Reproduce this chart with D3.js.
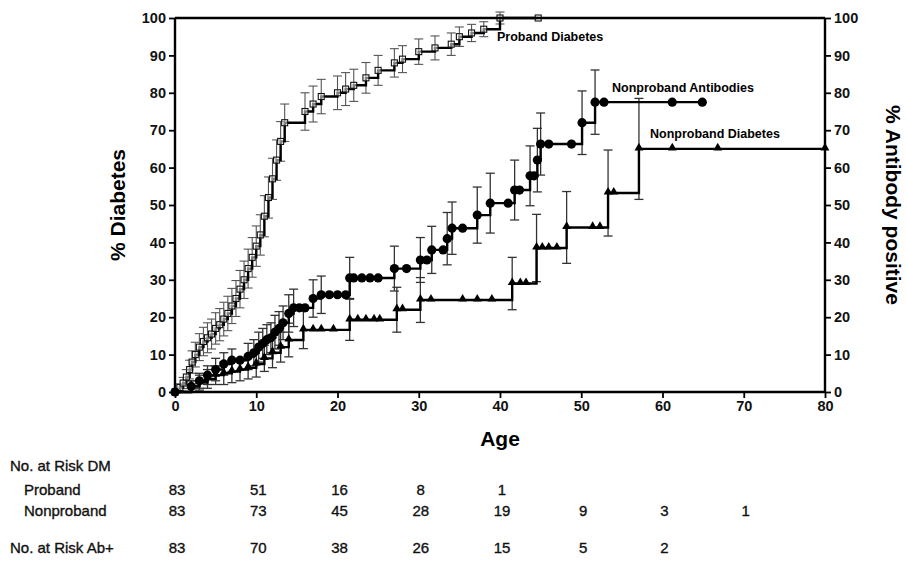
<!DOCTYPE html>
<html>
<head>
<meta charset="utf-8">
<script src="https://cdn.jsdelivr.net/npm/d3@7"></script>
<style>
  body { margin: 0; background: #fff; }
  svg { font-family: "Liberation Sans", Arial, sans-serif; }
  .tick text { font-weight: bold; font-size: 14.5px; }
</style>
</head>
<body>
<svg id="chart" width="907" height="564"></svg>
<script>
// Cumulative risk curves

// Proband diabetes (open squares)
var probandAge = [0,0.6,1.0,1.4,1.8,2.1,2.5,3,3.5,4,4.5,5,5.5,6,6.5,7,7.5,8,8.5,9,9.5,10,10.5,11,11.5,12,12.5,13,13.5,16,17,18,20,21,22,23.5,25,27,28,30,32,34,35,36.5,38,40,44.7];
var probandPct = [0,1.2,2.4,4,6,8,10,12,13.5,14.5,15.5,17,18,19.5,21,23,25,27.5,30,33,36,39,42,47,52,57,62,67,72,75,77,79,80,81,82,84,86,88,89,91,92,93,95,96,97,100,100];
var probandErr = [0,1,1.5,2,2.5,3,3.3,3.6,3.8,4,4,4.2,4.3,4.5,4.6,4.7,4.8,5,5,5.2,5.3,5.4,5.4,5.5,5.5,5.5,5.4,5.3,5,5,4.8,4.6,4.5,4.4,4.3,4.1,4,3.8,3.6,3.4,3.2,3,2.6,2.3,2,1.6,0];

// Nonproband antibodies (filled circles)
var abAge = [0,2,3,4,5,6,7,8,9,9.7,10.3,10.8,11.3,11.8,12.3,12.8,13.3,14,14.6,15.3,16,17,18,19,20,21,21.5,22,23,24,25,27,28.5,30.2,31,31.6,33,33.5,34.1,35.4,37.2,38.8,41,41.8,42.4,43.7,44.2,44.6,45,46,48.8,50.1,51.7,52.8,61.2,64.9];
var abPct = [0,1.5,3,4.5,6,7.5,8.5,8.5,9.5,10.5,12,13,14,14.5,16,17,18.5,21,22.5,22.5,22.5,25,26,26,26,26,30.5,30.5,30.5,30.5,30.5,33,33,35.3,35.3,38,38,41,43.8,43.8,47.3,50.5,50.5,54,54,57.8,57.8,62,66.3,66.3,66.3,72,77.5,77.5,77.5,77.5];
var abErr = [0,1.5,2,2.5,3,3,3,0,3.5,3.5,4,4,4,4,4.5,4.5,4.5,5,5,0,0,5,5,0,0,0,5.5,0,0,0,0,6,0,6,0,6.3,0,7,7,0,7.5,8,0,8,0,8,0,8.5,8.3,0,0,8.5,8.6,0,0,0];

// Nonproband diabetes (filled triangles)
var dmAge = [0,2,3,4,5,6,7,8,9,10,11,12,13,14,15.8,17,18,19.5,21.5,22.5,23.5,24.5,25.2,27.3,28,30.2,31.5,35.4,37.2,39,41.5,42.5,43.2,44.5,45.2,46,47,48.2,51.4,52.3,53.3,54,57.1,61.2,66.8,80];
var dmPct = [0,1.5,2.5,3.5,4.5,5,5.5,6,6.5,7.5,9,10.5,12,13.9,16.6,16.6,16.6,16.6,19.3,19.3,19.3,19.3,19.3,22,22,24.6,24.6,24.6,24.6,24.6,29,29,29,38.5,38.5,38.5,38.5,44,44,44,53.2,53.2,65,65,65,65];
var dmErr = [0,1.5,2,2.5,2.5,3,3,3,3,3.5,3.5,4,4,4.5,5,0,0,0,5.5,0,0,0,0,6,0,6,0,0,0,0,7,0,0,9,0,0,0,9.6,0,0,11.5,0,13.5,0,0,0];

// Number at risk table
var riskAges = [0,10,20,30,40,50,60,70];
var riskProband = [83,51,16,8,1];
var riskNonproband = [83,73,45,28,19,9,3,1];
var riskAb = [83,70,38,26,15,5,2];

var xTicks = [0,10,20,30,40,50,60,70,80];
var yTicks = [0,10,20,30,40,50,60,70,80,90,100];

///////////////////////////////////////////////////////////////////////////////

var svg = d3.select("#chart");
var plotL = 175, plotR = 825, plotT = 18, plotB = 392;

var x = d3.scaleLinear().domain([0, 80]).range([plotL, plotR]);
var y = d3.scaleLinear().domain([0, 100]).range([plotB, plotT]);

var zip = function (ages, pcts, errs) {
  return ages.map(function (a, i) { return {age: a, pct: pcts[i], err: errs[i]}; });
};
var proband = zip(probandAge, probandPct, probandErr);
var ab = zip(abAge, abPct, abErr);
var dm = zip(dmAge, dmPct, dmErr);

var stepLine = d3.line()
  .x(function (d) { return x(d.age); })
  .y(function (d) { return y(d.pct); })
  .curve(d3.curveStepAfter);

// error bars with caps
var drawErr = function (data, color, width) {
  var g = svg.append("g").attr("stroke", color).attr("stroke-width", width).attr("fill", "none");
  data.filter(function (d) { return d.err > 0; }).forEach(function (d) {
    var cx = x(d.age), y1 = y(d.pct + d.err), y2 = y(Math.max(0, d.pct - d.err));
    g.append("line").attr("x1", cx).attr("x2", cx).attr("y1", y1).attr("y2", y2);
    g.append("line").attr("x1", cx - 4.5).attr("x2", cx + 4.5).attr("y1", y1).attr("y2", y1);
    g.append("line").attr("x1", cx - 4.5).attr("x2", cx + 4.5).attr("y1", y2).attr("y2", y2);
  });
};

drawErr(proband, "#555", 1.1);
drawErr(dm, "#333", 1.3);
drawErr(ab, "#333", 1.3);

// curves
[proband, dm, ab].forEach(function (data) {
  svg.append("path").datum(data)
    .attr("d", stepLine)
    .attr("fill", "none")
    .attr("stroke", "#000")
    .attr("stroke-width", 2.4);
});

// markers
svg.append("g").selectAll("rect").data(proband).enter().append("rect")
  .attr("x", function (d) { return x(d.age) - 3; })
  .attr("y", function (d) { return y(d.pct) - 3; })
  .attr("width", 6).attr("height", 6)
  .attr("fill", "#fff").attr("fill-opacity", 0.5)
  .attr("stroke", "#111").attr("stroke-width", 1.1);

svg.append("g").selectAll("path").data(dm).enter().append("path")
  .attr("d", d3.symbol().type(d3.symbolTriangle).size(34))
  .attr("transform", function (d) { return "translate(" + x(d.age) + "," + (y(d.pct) - 1) + ")"; })
  .attr("fill", "#000");

svg.append("g").selectAll("circle").data(ab).enter().append("circle")
  .attr("cx", function (d) { return x(d.age); })
  .attr("cy", function (d) { return y(d.pct); })
  .attr("r", 4.6)
  .attr("fill", "#000");

// axes
var xAxis = svg.append("g").attr("transform", "translate(0," + plotB + ")")
  .call(d3.axisBottom(x).tickValues(xTicks).tickSize(6).tickPadding(3));
var yAxisL = svg.append("g").attr("transform", "translate(" + plotL + ",0)")
  .call(d3.axisLeft(y).tickValues(yTicks).tickSize(6).tickPadding(3));
var yAxisR = svg.append("g").attr("transform", "translate(" + plotR + ",0)")
  .call(d3.axisRight(y).tickValues(yTicks).tickSize(6).tickPadding(3));
[xAxis, yAxisL, yAxisR].forEach(function (a) {
  a.select(".domain").attr("stroke-width", 2.4);
  a.selectAll(".tick line").attr("stroke-width", 1.8);
  a.selectAll(".tick text").attr("fill", "#111");
});
yAxisL.selectAll(".domain").attr("d", "M0," + plotT + "V" + plotB);
yAxisR.selectAll(".domain").attr("d", "M0," + plotT + "V" + plotB);
xAxis.selectAll(".domain").attr("d", "M" + plotL + ",0H" + plotR);

// top frame line
svg.append("line")
  .attr("x1", plotL).attr("x2", plotR).attr("y1", plotT).attr("y2", plotT)
  .attr("stroke", "#000").attr("stroke-width", 2.4);

// axis titles
svg.append("text").attr("transform", "translate(125,205) rotate(-90)")
  .attr("text-anchor", "middle").attr("font-size", 21).attr("font-weight", "bold")
  .text("% Diabetes");
svg.append("text").attr("transform", "translate(886,205) rotate(90)")
  .attr("text-anchor", "middle").attr("font-size", 21).attr("font-weight", "bold")
  .text("% Antibody positive");
svg.append("text").attr("x", x(40)).attr("y", 446)
  .attr("text-anchor", "middle").attr("font-size", 21).attr("font-weight", "bold")
  .text("Age");

// curve labels
var labels = [
  {t: "Proband Diabetes", x: 497, y: 41},
  {t: "Nonproband Antibodies", x: 612, y: 92},
  {t: "Nonproband Diabetes", x: 650, y: 138}
];
svg.append("g").selectAll("text").data(labels).enter().append("text")
  .attr("x", function (d) { return d.x; })
  .attr("y", function (d) { return d.y; })
  .attr("font-size", 12.5).attr("font-weight", "bold")
  .text(function (d) { return d.t; });

// number at risk table
var table = svg.append("g").attr("font-size", 15).attr("fill", "#111")
  .attr("stroke", "#111").attr("stroke-width", 0.35);
table.append("text").attr("x", 10).attr("y", 471).text("No. at Risk DM");
table.append("text").attr("x", 24).attr("y", 495).text("Proband");
table.append("text").attr("x", 24).attr("y", 516).text("Nonproband");
table.append("text").attr("x", 10).attr("y", 553).text("No. at Risk Ab+");

var riskRow = function (vals, yy) {
  table.append("g").selectAll("text").data(vals).enter().append("text")
    .attr("x", function (d, i) { return x(riskAges[i]) + 2; })
    .attr("y", yy)
    .attr("text-anchor", "middle")
    .text(function (d) { return d; });
};
riskRow(riskProband, 495);
riskRow(riskNonproband, 516);
riskRow(riskAb, 553);
</script>
</body>
</html>
